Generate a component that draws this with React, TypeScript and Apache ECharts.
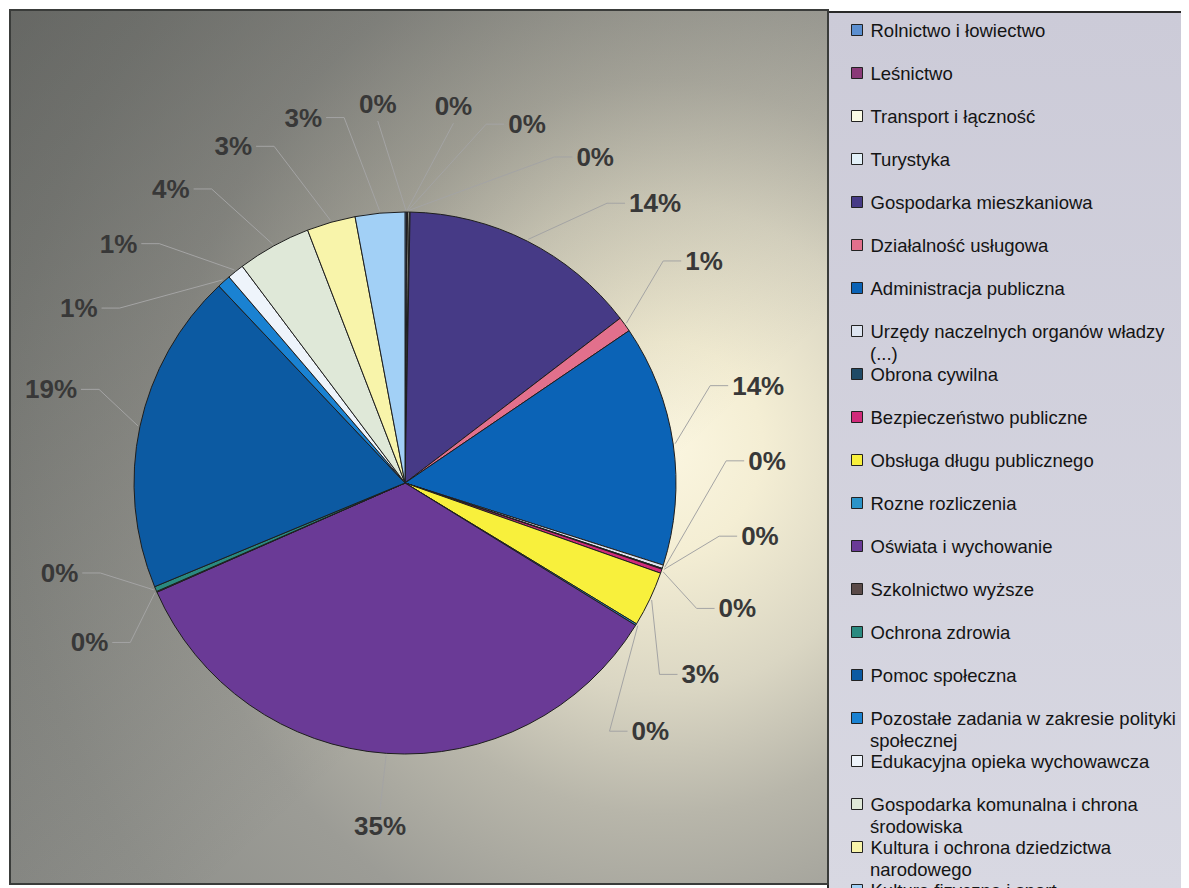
import React, { useEffect, useRef } from "react";
import * as echarts from "echarts";

const categories: string[] = [
  "Rolnictwo i łowiectwo",
  "Leśnictwo",
  "Transport i łączność",
  "Turystyka",
  "Gospodarka mieszkaniowa",
  "Działalność usługowa",
  "Administracja publiczna",
  "Urzędy naczelnych organów władzy (...)",
  "Obrona cywilna",
  "Bezpieczeństwo publiczne",
  "Obsługa długu publicznego",
  "Rozne rozliczenia",
  "Oświata i wychowanie",
  "Szkolnictwo wyższe",
  "Ochrona zdrowia",
  "Pomoc społeczna",
  "Pozostałe zadania w zakresie polityki społecznej",
  "Edukacyjna opieka wychowawcza",
  "Gospodarka komunalna i chrona środowiska",
  "Kultura i ochrona dziedzictwa narodowego",
  "Kultura fizyczna i sport",
];

const values: number[] = [
  0.1, 0.05, 0.1, 0.05, 14.3, 0.9, 14.4, 0.2, 0.05, 0.25, 3.3, 0.1, 34.6,
  0.05, 0.3, 19.2, 0.8, 1.0, 4.4, 2.9, 2.95,
];

const colors: string[] = [
  "#5b8fd0", "#8a3a78", "#fbfbe6", "#e2f0f8", "#463a86", "#e2708c",
  "#0b63b6", "#dde4f0", "#1f4a66", "#d02a7a", "#f8f03c", "#2a93c8",
  "#6a3a96", "#5a4a48", "#2a8a80", "#0c5aa2", "#1a82d2", "#eef4fb",
  "#dfe8d8", "#f8f4aa", "#a2d0f6",
];

// legend names broken onto two lines as in the original legend
const legendBreaks: Record<string, [string, string]> = {
  "Urzędy naczelnych organów władzy (...)": ["Urzędy naczelnych organów władzy", "(...)"],
  "Pozostałe zadania w zakresie polityki społecznej": [
    "Pozostałe zadania w zakresie polityki",
    "społecznej",
  ],
  "Gospodarka komunalna i chrona środowiska": ["Gospodarka komunalna i chrona", "środowiska"],
  "Kultura i ochrona dziedzictwa narodowego": ["Kultura i ochrona dziedzictwa", "narodowego"],
};

const FONT = "'Liberation Sans', Arial, sans-serif";
const LEG_FONT = 18.5;

const CX = 397;
const CY = 475;
const R = 271;
const LABEL_R = 362;
const LABEL_LIFT = 18; // label ring centred a little above the pie centre
const MIN_SEP = 12; // degrees between neighbouring labels

// mid angle (deg, clockwise from 12 o'clock) of every slice, from the data
function midAngles(vals: number[]): number[] {
  const total = vals.reduce((a, b) => a + b, 0);
  let acc = 0;
  return vals.map((v) => {
    const mid = ((acc + v / 2) / total) * 360;
    acc += v;
    return mid;
  });
}

// spread label angles apart (pool-adjacent-violators on a circle cut at the widest gap)
function spreadAngles(mids: number[], sep: number): number[] {
  const n = mids.length;
  let cut = 0;
  let best = -1;
  for (let i = 0; i < n; i++) {
    const a = mids[i];
    const b = i + 1 < n ? mids[i + 1] : mids[0] + 360;
    if (b - a > best) {
      best = b - a;
      cut = (i + 1) % n;
    }
  }
  const order: number[] = [];
  for (let k = 0; k < n; k++) order.push((cut + k) % n);
  const des: number[] = [];
  let prev = -Infinity;
  order.forEach((idx) => {
    let a = mids[idx];
    while (a < prev) a += 360;
    des.push(a);
    prev = a;
  });
  type Block = { s: number; e: number; start: number };
  const blocks: Block[] = [];
  const fit = (s: number, e: number) => {
    let sum = 0;
    for (let k = s; k <= e; k++) sum += des[k] - (k - s) * sep;
    return sum / (e - s + 1);
  };
  for (let k = 0; k < n; k++) {
    blocks.push({ s: k, e: k, start: des[k] });
    while (blocks.length > 1) {
      const b = blocks[blocks.length - 1];
      const a = blocks[blocks.length - 2];
      const aEnd = a.start + (a.e - a.s) * sep;
      if (aEnd + sep > b.start) {
        const merged = { s: a.s, e: b.e, start: 0 };
        merged.start = fit(merged.s, merged.e);
        blocks.splice(blocks.length - 2, 2, merged);
      } else break;
    }
  }
  const out: number[] = new Array(n);
  blocks.forEach((b) => {
    for (let k = b.s; k <= b.e; k++) out[order[k]] = b.start + (k - b.s) * sep;
  });
  return out;
}

export default function App() {
  const ref = useRef<HTMLDivElement>(null);
  useEffect(() => {
    if (!ref.current) return;
    const chart = echarts.init(ref.current, null, { renderer: "svg" });
    const mids = midAngles(values);
    const lab = spreadAngles(mids, MIN_SEP);
    const rad = (d: number) => (d * Math.PI) / 180;

    const legendCommon = {
      orient: "vertical",
      left: 843,
      height: 1200,
      padding: 0,
      itemWidth: 11,
      itemHeight: 11,
      itemGap: 21,
      icon: "rect",
      selectedMode: false,
      data: categories,
    };
    const legendText = {
      fontFamily: FONT,
      fontSize: LEG_FONT,
      color: "#141414",
      lineHeight: 22,
      padding: [0, 0, 0, 3],
    };

    chart.setOption({
      animation: false,
      color: colors,
      graphic: [
        {
          type: "rect",
          z: -10,
          shape: { x: 2, y: 2, width: 818, height: 874 },
          style: {
            fill: {
              type: "radial",
              x: 0.8,
              y: 0.5,
              r: 1.0,
              colorStops: [
                { offset: 0, color: "#fbf6e0" },
                { offset: 0.12, color: "#f4eed4" },
                { offset: 0.28, color: "#dad6c3" },
                { offset: 0.42, color: "#b8b6aa" },
                { offset: 0.6, color: "#9c9c96" },
                { offset: 0.8, color: "#90918c" },
                { offset: 1, color: "#8a8b87" },
              ],
            },
          },
        },
        {
          type: "rect",
          z: -9,
          shape: { x: 2, y: 2, width: 818, height: 874 },
          style: {
            fill: {
              type: "linear",
              x: 0,
              y: 0,
              x2: 0.6,
              y2: 0.7,
              colorStops: [
                { offset: 0, color: "rgba(40,42,40,0.38)" },
                { offset: 1, color: "rgba(40,42,40,0)" },
              ],
            },
            stroke: "#3a3c3a",
            lineWidth: 2,
          },
        },
        {
          type: "rect",
          z: -10,
          shape: { x: 820, y: 4, width: 362, height: 880 },
          style: {
            fill: {
              type: "linear",
              x: 0,
              y: 0,
              x2: 0,
              y2: 1,
              colorStops: [
                { offset: 0, color: "#cccbd8" },
                { offset: 1, color: "#d8d8e2" },
              ],
            },
            stroke: "#2a2a2a",
            lineWidth: 2,
          },
        },
      ],
      legend: [
        {
          ...legendCommon,
          top: 11,
          itemStyle: { borderColor: "#222", borderWidth: 1 },
          formatter: (name: string) => (legendBreaks[name] ? legendBreaks[name][0] : name),
          textStyle: legendText,
        },
        {
          ...legendCommon,
          top: 33,
          itemStyle: { color: "rgba(0,0,0,0)", borderColor: "rgba(0,0,0,0)", borderWidth: 0 },
          formatter: (name: string) => (legendBreaks[name] ? legendBreaks[name][1] : " "),
          textStyle: legendText,
        },
      ],
      series: [
        {
          type: "pie",
          center: [CX, CY],
          radius: R,
          startAngle: 90,
          clockwise: true,
          avoidLabelOverlap: false,
          itemStyle: { borderColor: "#1e1e1e", borderWidth: 1 },
          label: {
            show: true,
            position: "outside",
            fontFamily: FONT,
            fontSize: 26,
            fontWeight: "bold",
            color: "#383838",
            formatter: (p: any) => Math.round(p.percent) + "%",
          },
          labelLine: {
            show: true,
            lineStyle: { color: "#a4a4a4", width: 1 },
          },
          labelLayout: (params: any) => {
            const i = params.dataIndex;
            const th = rad(lab[i]);
            const m = rad(mids[i]);
            const lx = CX + LABEL_R * Math.sin(th);
            const ly = CY - LABEL_LIFT - LABEL_R * Math.cos(th);
            const w = params.labelRect.width;
            const h = params.labelRect.height;
            const p0 = [CX + (R + 2) * Math.sin(m), CY - (R + 2) * Math.cos(m)];
            let pts: number[][];
            if (Math.abs(Math.sin(th)) < 0.15) {
              const ay = Math.cos(th) < 0 ? ly - h / 2 - 4 : ly + h / 2 + 4;
              pts = [p0, [lx, ay], [lx, ay]];
            } else {
              const side = Math.sin(th) > 0 ? -1 : 1;
              const ax = lx + side * (w / 2 + 4);
              pts = [p0, [ax + side * 18, ly], [ax, ly]];
            }
            return {
              x: lx,
              y: ly,
              align: "center",
              verticalAlign: "middle",
              labelLinePoints: pts,
            };
          },
          emphasis: { disabled: true },
          data: categories.map((name, i) => ({ name, value: values[i] })),
        },
      ],
    });
    return () => chart.dispose();
  }, []);
  return <div ref={ref} style={{ width: 1181, height: 880 }} />;
}
